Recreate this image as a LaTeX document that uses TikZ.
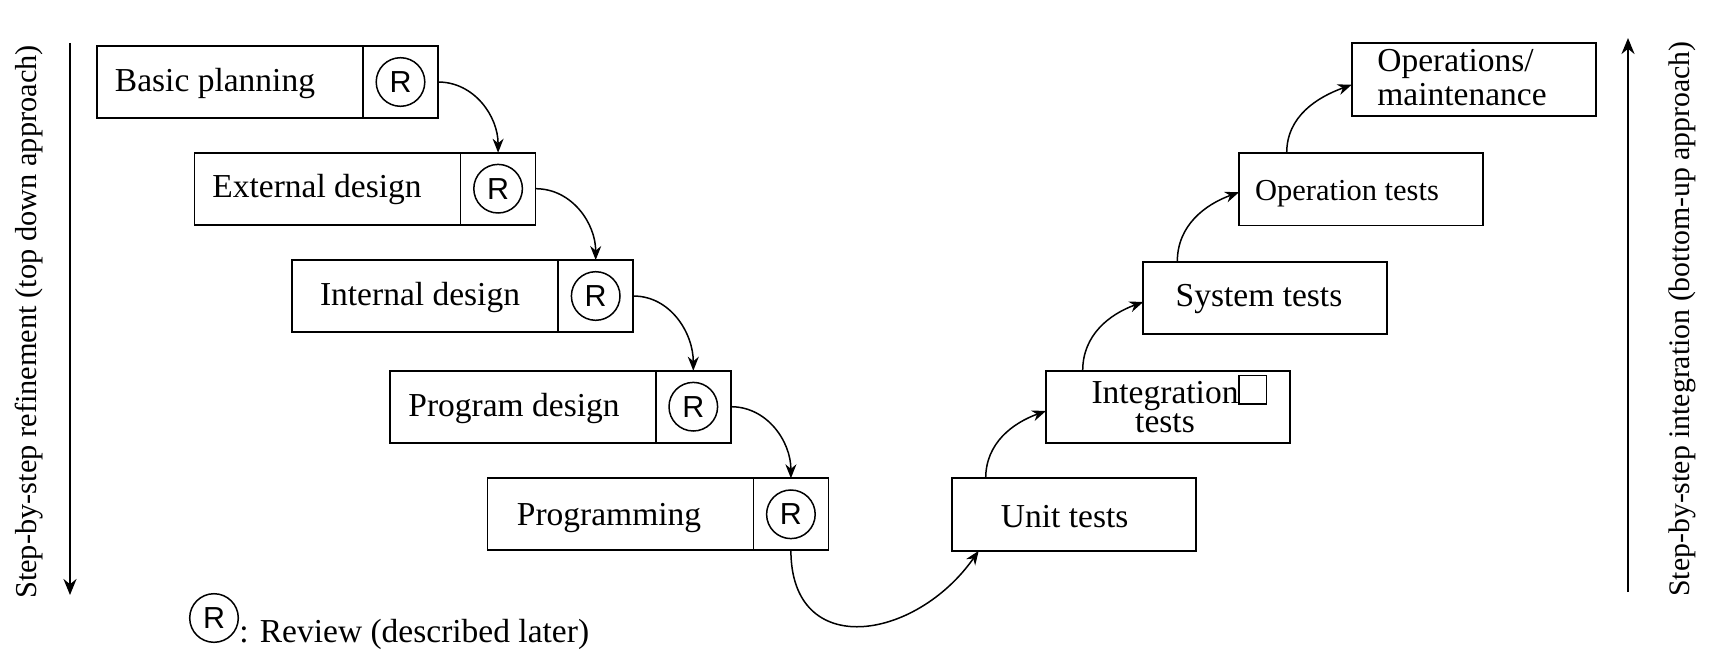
\documentclass[tikz,border=0pt]{standalone}
\usepackage{fontspec}
\setmainfont{Liberation Serif}
\newfontfamily\sansR{Liberation Sans}
\usetikzlibrary{arrows.meta}
\newcommand\missbox{\begingroup\setlength\fboxrule{0.7pt}\setlength\fboxsep{0pt}\fbox{\rule{0pt}{13.6pt}\rule{13.1pt}{0pt}}\endgroup}
\tikzset{
  lbox/.style={draw, line width=0.85pt, minimum width=133pt, minimum height=36pt, inner sep=0pt, outer sep=0pt, anchor=north west},
  rbox/.style={draw, line width=0.85pt, minimum width=37.5pt, minimum height=36pt, inner sep=0pt, outer sep=0pt, anchor=west},
  tbox/.style={draw, line width=0.85pt, minimum width=122pt, minimum height=36.25pt, inner sep=0pt, outer sep=0pt, anchor=north west},
  rc/.style={circle, draw, line width=0.75pt, minimum size=24.3pt, inner sep=0pt, font=\sansR\fontsize{15.2}{18}\selectfont},
  txt/.style={inner sep=0pt, anchor=base, font=\fontsize{16.75}{20}\selectfont},
  conn/.style={line width=0.75pt, -{Stealth[length=7pt,width=5.5pt]}},
  side/.style={line width=1.2pt, -{Stealth[length=8pt,width=6.5pt]}},
  sidetxt/.style={inner sep=0pt, anchor=base, rotate=90}
}
\begin{document}
\begin{tikzpicture}[x=0.5pt,y=-0.5pt]
\useasboundingbox (0,0) rectangle (1714,658);
% left side boxes
\node[lbox] (b1) at (97,46) {};
\node[rbox] (r1) at (b1.east) {};
\node[rc] (c1) at (r1.center) {R};
\node[txt] (t1) at (215,91.7) {Basic planning};

\node[lbox] (b2) at (194.6,152.7) {};
\node[rbox] (r2) at (b2.east) {};
\node[rc] (c2) at (r2.center) {R};
\node[txt] (t2) at (317,197.5) {External design};

\node[lbox] (b3) at (292.2,260) {};
\node[rbox] (r3) at (b3.east) {};
\node[rc] (c3) at (r3.center) {R};
\node[txt] (t3) at (420,305.5) {Internal design};

\node[lbox] (b4) at (389.8,370.7) {};
\node[rbox] (r4) at (b4.east) {};
\node[rc] (c4) at (r4.center) {R};
\node[txt] (t4) at (514,416.7) {Program design};

\node[lbox] (b5) at (487.4,478.3) {};
\node[rbox] (r5) at (b5.east) {};
\node[rc] (c5) at (r5.center) {R};
\node[txt] (t5) at (609,525) {Programming};

% right side boxes
\node[tbox] (u) at (951.7,478.3) {};
\node[txt] (tu) at (1064.7,527.3) {Unit tests};
\node[tbox] (i) at (1046,370.7) {};
\node[txt, align=center, font=\fontsize{16.75}{14.65}\selectfont] (ti) at (1165,432.7) {Integration\rlap{\missbox}\\tests};
\node[tbox] (s) at (1143.3,261.7) {};
\node[txt] (ts) at (1259,306.7) {System tests};
\node[tbox] (ot) at (1239,153) {};
\node[txt, font=\fontsize{15.25}{18}\selectfont] (tot) at (1347,200) {Operation tests};
\node[tbox] (om) at (1351.7,43.3) {};
\node[txt, anchor=base west, align=left, font=\fontsize{16.75}{16.65}\selectfont] (tom) at (1377,105) {Operations/\\maintenance};

% connectors
\draw[conn] (r1.east) to[out=0,in=90] (r2.north);
\draw[conn] (r2.east) to[out=0,in=90] (r3.north);
\draw[conn] (r3.east) to[out=0,in=90] (r4.north);
\draw[conn] (r4.east) to[out=0,in=90] (r5.north);
\draw[conn] (r5.south) to[out=-90,in=235,looseness=1.5] ([xshift=13.5pt]u.south west);
\draw[conn] ([xshift=17pt]u.north west) to[out=90,in=200] ([yshift=-2pt]i.west);
\draw[conn] ([xshift=18.35pt]i.north west) to[out=90,in=200] ([yshift=-2pt]s.west);
\draw[conn] ([xshift=17pt]s.north west) to[out=90,in=200] ([yshift=-1.5pt]ot.west);
\draw[conn] ([xshift=23.85pt]ot.north west) to[out=90,in=200] ([yshift=-2.6pt]om.west);

% side arrows and texts
\coordinate (la1) at (70,43);
\coordinate (la2) at (70,595);
\draw[side] (la1) -- (la2);
\coordinate (ra1) at (1628,592);
\coordinate (ra2) at (1628,38);
\draw[side] (ra1) -- (ra2);
\node[sidetxt, font=\fontsize{15.2}{18}\selectfont] (lt) at (36.5,322) {Step-by-step refinement (top down approach)};
\node[sidetxt, font=\fontsize{14.9}{18}\selectfont] (rt) at (1689,319) {Step-by-step integration (bottom-up approach)};

% legend
\node[rc] (lr) at (214,618) {R};
\node[txt, anchor=base west] (ltx) at (239,642.7) {: Review (described later)};
\end{tikzpicture}
\end{document}
